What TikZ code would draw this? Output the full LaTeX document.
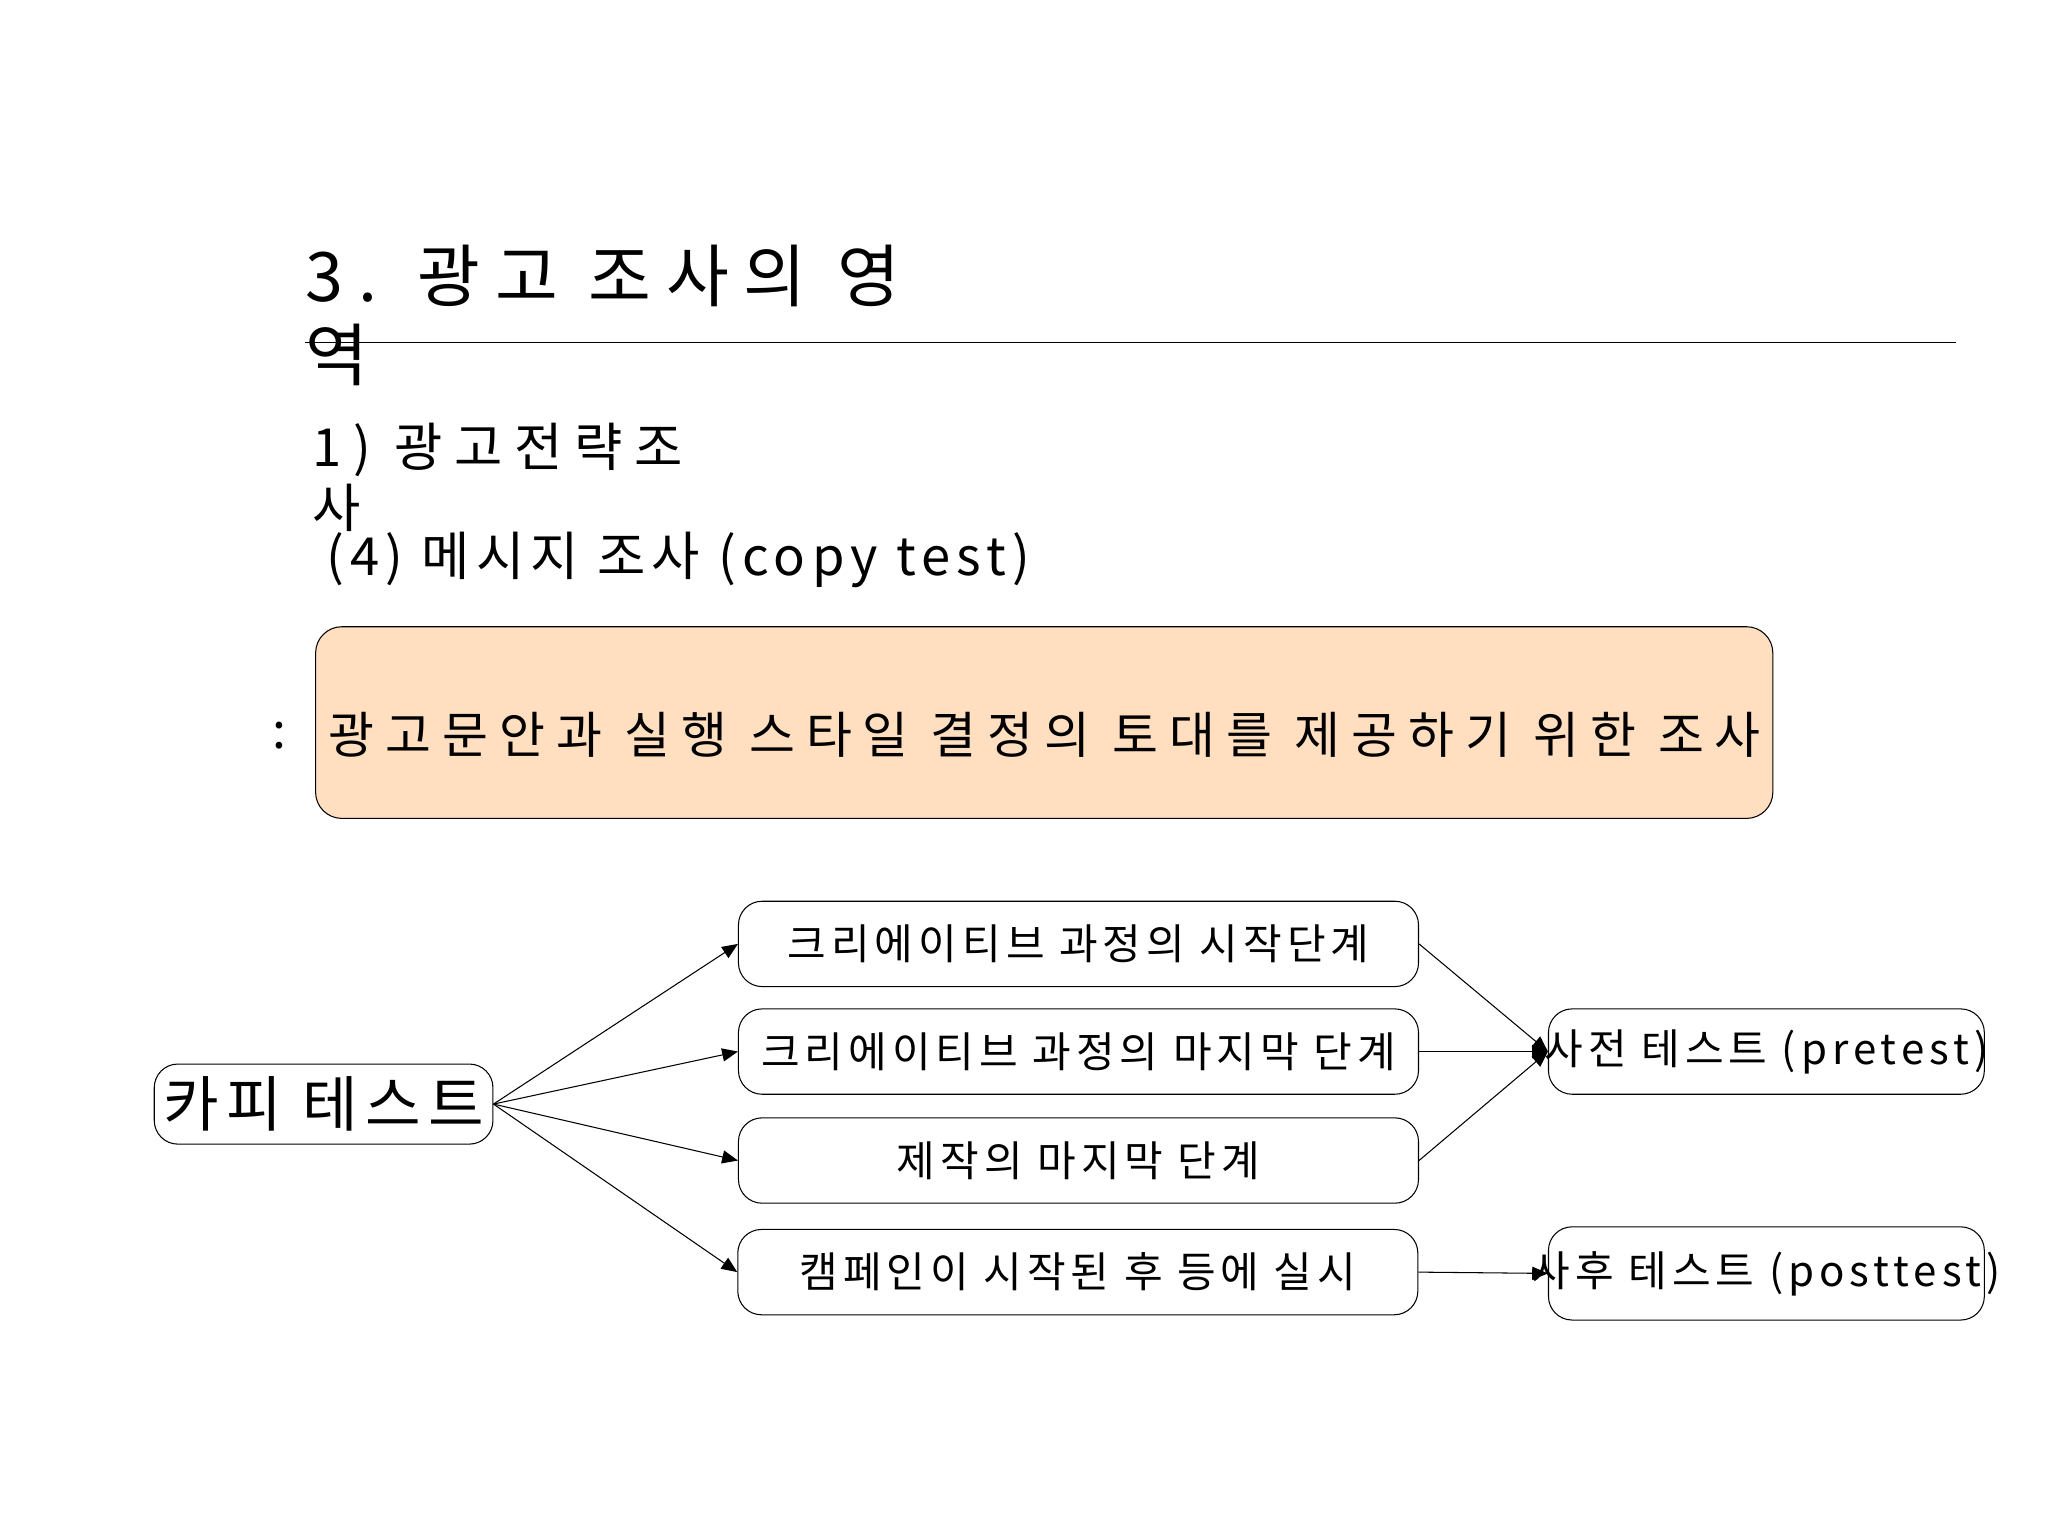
\documentclass[tikz,border=0pt]{standalone}
\usepackage{fontspec}
\setmainfont{Noto Sans CJK KR}[LetterSpace=12]
\newfontfamily\widefont{Noto Sans CJK KR}[LetterSpace=22]
\usetikzlibrary{arrows.meta}
\begin{document}
\begin{tikzpicture}[x=0.5pt,y=-0.5pt,
  box/.style={draw,rounded corners=9pt,inner sep=0pt},
  lbl/.style={font=\fontsize{16}{18}\selectfont,inner sep=0pt},
  arr/.style={-{Triangle[length=6pt,width=5pt]}}]
\useasboundingbox (0,0) rectangle (1560,1170);
\node[anchor=base west,font=\widefont\fontsize{26}{30}\selectfont,inner sep=0pt] (t1) at (232,230) {3.  광고 조사의 영};
\node[anchor=base west,font=\fontsize{26}{30}\selectfont,inner sep=0pt] (t2) at (232,290) {역};
\coordinate (l1) at (232,261); \coordinate (l2) at (1490,261);
\draw (l1) -- (l2);
\node[anchor=base west,font=\widefont\fontsize{20}{24}\selectfont,inner sep=0pt] (s1) at (238,355) {1) 광고전략조};
\node[anchor=base west,font=\fontsize{20}{24}\selectfont,inner sep=0pt] (s2) at (238,402) {사};
\node[anchor=base west,font=\fontsize{20}{24}\selectfont,inner sep=0pt] (s3) at (248,438) {(4) 메시지 조사 (copy test)};
\node[box,fill=orange!25!white,minimum width=555pt,minimum height=73pt,anchor=north west,rounded corners=10pt] (big) at (240,477) {};
\node[anchor=west,font=\fontsize{19}{22}\selectfont,inner sep=0pt] (colon) at (207,560) {:};
\node[anchor=west,font=\widefont\fontsize{19}{22}\selectfont,inner sep=0pt] (bt) at (250,560) {광고문안과 실행 스타일 결정의 토대를 제공하기 위한 조사};
\node[box,minimum width=129pt,minimum height=30.5pt] (c) at (246.5,841) {};
\node[font=\fontsize{23}{26}\selectfont,inner sep=0pt] at (c) {카피 테스트};
\node[box,minimum width=259pt,minimum height=32.5pt] (m1) at (821.5,719) {};
\node[lbl] at (m1) {크리에이티브 과정의 시작단계};
\node[box,minimum width=259pt,minimum height=32.5pt] (m2) at (821.5,801) {};
\node[lbl] at (m2) {크리에이티브 과정의 마지막 단계};
\node[box,minimum width=259pt,minimum height=32.5pt] (m3) at (821.5,884) {};
\node[lbl] at (m3) {제작의 마지막 단계};
\node[box,minimum width=259pt,minimum height=32.5pt] (m4) at (821,969) {};
\node[lbl] at (m4) {캠페인이 시작된 후 등에 실시};
\node[box,minimum width=166pt,minimum height=32.5pt] (p1) at (1345.5,801) {};
\node[lbl] at (p1) {사전 테스트 (pretest)};
\node[box,minimum width=166pt,minimum height=35.5pt] (p2) at (1345.5,970) {};
\node[lbl] at (p2) {사후 테스트 (posttest)};
\foreach \m in {m1,m2,m3,m4} \draw[arr] (c.east) -- (\m.west);
\foreach \m in {m1,m2,m3} \draw[arr] (\m.east) -- (p1.west);
\draw[arr] (m4.east) -- (p2.west);
\end{tikzpicture}
\end{document}
